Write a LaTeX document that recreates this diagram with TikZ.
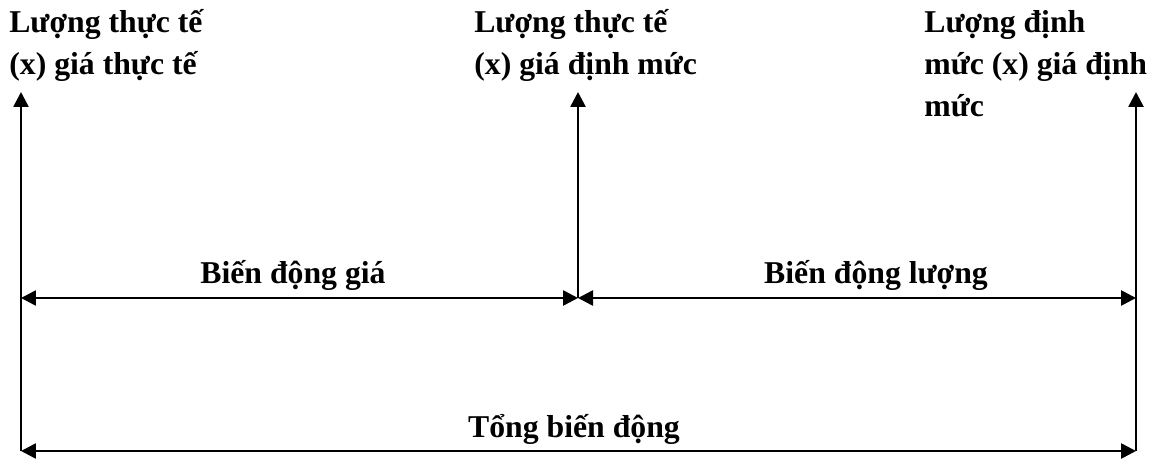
\documentclass[tikz,border=0pt]{standalone}
\usepackage{fontspec}
\setmainfont{Liberation Serif}
\usetikzlibrary{arrows.meta}
\begin{document}
\begin{tikzpicture}[x=0.02cm,y=-0.02cm,line width=1.5pt,
  every node/.style={font=\bfseries\fontsize{18bp}{24bp}\selectfont,align=left,inner sep=0pt},
  head/.style={-{Triangle[length=3mm,width=3mm]}},
  span/.style={{Triangle[length=3mm,width=3mm]}-{Triangle[length=3mm,width=3mm]}}]
\useasboundingbox (0,0) rectangle (1155,459);
\coordinate (a0) at (21,451); \coordinate (a1) at (21,92);
\coordinate (b0) at (578,298); \coordinate (b1) at (578,92);
\coordinate (c0) at (1136,451); \coordinate (c1) at (1136,92);
\coordinate (m0) at (21,298); \coordinate (m2) at (1136,298);
% texts above the arrows (base = last line)
\node[anchor=base west] (tt) at (8,75) {Lượng thực tế\\(x) giá thực tế};
\node[anchor=base west] (td) at (473,75) {Lượng thực tế\\(x) giá định mức};
\node[anchor=base west] (dd) at (923,117) {Lượng định\\mức (x) giá định\\mức};
\draw[head] (a0) -- (a1);
\draw[head] (b0) -- (b1);
\draw[head] (c0) -- (c1);
\draw[span] (m0) -- (b0);
\draw[span] (b0) -- (m2);
\draw[span] (a0) -- (c0);
\node[anchor=base] (gia) at (293,283) {Biến động giá};
\node[anchor=base] (luong) at (876,283) {Biến động lượng};
\node[anchor=base] (tong) at (574,437) {Tổng biến động};
\end{tikzpicture}
\end{document}
